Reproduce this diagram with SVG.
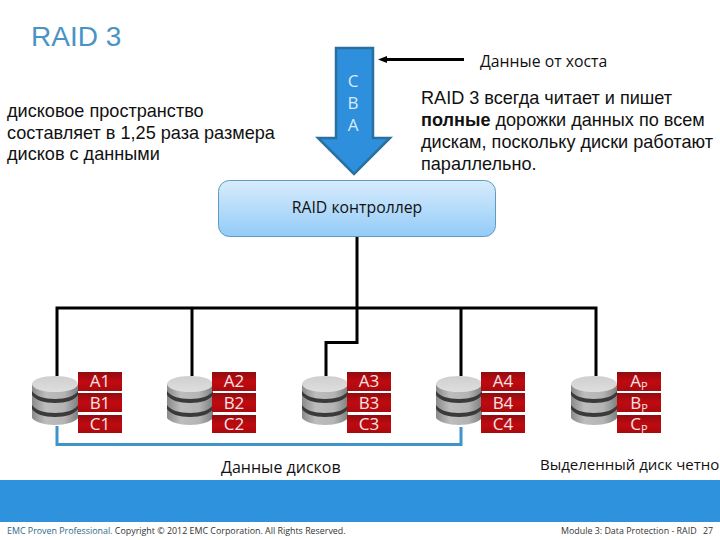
<svg xmlns="http://www.w3.org/2000/svg" width="720" height="540" viewBox="0 0 720 540">
<style>
.s{font-family:"Liberation Sans",Arial,sans-serif;fill:#111}
.o{font-family:"Open Sans","Noto Sans",sans-serif;fill:#111}
.body{font-size:18.100px}
.cap{font-size:15.800px}
.foot{font-size:8.900px;fill:#333}
.lab{font-family:"Open Sans","Noto Sans",sans-serif;font-size:17px;fill:#f4e4e4;text-anchor:middle}
.alab{font-family:"Open Sans","Noto Sans",sans-serif;font-size:17px;fill:#d8ecfa;text-anchor:middle}
.sub{font-size:11px}
.cell{fill:url(#red)}
.bus{fill:none;stroke:#000;stroke-width:3}
.blue{fill:none;stroke:#3f94c8;stroke-width:3}
</style>
<defs>
<linearGradient id="ctl" x1="0" y1="0" x2="0" y2="1"><stop offset="0" stop-color="#d8ecfc"/><stop offset="1" stop-color="#93cbf8"/></linearGradient>
<linearGradient id="red" x1="0" y1="0" x2="0" y2="1"><stop offset="0" stop-color="#8f0c10"/><stop offset="0.5" stop-color="#c00a10"/><stop offset="1" stop-color="#a80a0e"/></linearGradient>
<linearGradient id="cyl" x1="0" y1="0" x2="1" y2="0"><stop offset="0" stop-color="#8a8a8a"/><stop offset="0.3" stop-color="#bdbdbd"/><stop offset="0.7" stop-color="#b4b4b4"/><stop offset="1" stop-color="#808080"/></linearGradient>
<linearGradient id="topg" x1="0" y1="0" x2="0" y2="1"><stop offset="0" stop-color="#cfcfcf"/><stop offset="1" stop-color="#dedede"/></linearGradient>
<g id="disk">
<path d="M0 8V42C3 46 12 49 23 49S43 46 46 42V8Z" fill="url(#cyl)"/>
<path d="M0 15C3 20 12 23 23 23S43 20 46 15V19C43 24 34 27 23 27S3 24 0 19Z" fill="#3a3a3a"/>
<path d="M0 29C3 34 12 37 23 37S43 34 46 29V33C43 38 34 41 23 41S3 38 0 33Z" fill="#3a3a3a"/>
<ellipse cx="23" cy="8" rx="23" ry="8" fill="url(#topg)"/>
</g>
<g id="cells">
<rect class="cell" x="0" y="0" width="44" height="19"/>
<rect class="cell" x="0" y="21" width="44" height="19"/>
<rect class="cell" x="0" y="43" width="44" height="18"/>
</g>
</defs>
<rect width="720" height="540" fill="#fff"/>
<text id="title" x="31" y="46" font-family="Liberation Sans,Arial,sans-serif" font-size="28" fill="#4a93c4">RAID 3</text>

<g id="connectors">
<path class="bus" d="M357 237V342.500H326V376M57 376V308H596V376M192 308V376M461 308V376"/>
<path class="blue" d="M57 426V444.500H461V427"/>
<path d="M464 59.500H385" stroke="#000" stroke-width="3" fill="none"/>
<path d="M378 59.500L387 56V63Z" fill="#000"/>
</g>

<g id="host-arrow">
<path d="M336 48H373V138H390L354 174L318 138H336Z" fill="#2e8fdc" stroke="#28709f" stroke-width="2.500"/>
<text class="alab" x="353" y="87">C</text>
<text class="alab" x="353" y="109">B</text>
<text class="alab" x="353" y="131">A</text>
</g>
<text id="host-label" class="o cap" x="480" y="67">Данные от хоста</text>

<g id="note-left" class="s body">
<text x="7" y="117">дисковое пространство</text>
<text x="7" y="139">составляет в 1,25 раза размера</text>
<text x="7" y="160">дисков с данными</text>
</g>
<g id="note-right" class="s body">
<text x="421" y="104">RAID 3 всегда читает и пишет</text>
<text x="421" y="126"><tspan font-weight="bold">полные</tspan> дорожки данных по всем</text>
<text x="421" y="148">дискам, поскольку диски работают</text>
<text x="421" y="170">параллельно.</text>
</g>

<g id="controller">
<rect x="218.500" y="180.500" width="277" height="56" rx="11" fill="url(#ctl)" stroke="#5c9cbc"/>
<text class="o cap" x="357" y="213" text-anchor="middle">RAID контроллер</text>
</g>

<g id="disk1">
<use href="#disk" x="32" y="376"/><use href="#cells" x="78" y="372"/>
<text class="lab" x="100" y="387">A1</text><text class="lab" x="100" y="408.500">B1</text><text class="lab" x="100" y="430">C1</text>
</g>
<g id="disk2">
<use href="#disk" x="167" y="376"/><use href="#cells" x="212" y="372"/>
<text class="lab" x="234" y="387">A2</text><text class="lab" x="234" y="408.500">B2</text><text class="lab" x="234" y="430">C2</text>
</g>
<g id="disk3">
<use href="#disk" x="302" y="376"/><use href="#cells" x="347" y="372"/>
<text class="lab" x="369" y="387">A3</text><text class="lab" x="369" y="408.500">B3</text><text class="lab" x="369" y="430">C3</text>
</g>
<g id="disk4">
<use href="#disk" x="436" y="376"/><use href="#cells" x="481" y="372"/>
<text class="lab" x="503" y="387">A4</text><text class="lab" x="503" y="408.500">B4</text><text class="lab" x="503" y="430">C4</text>
</g>
<g id="disk5">
<use href="#disk" x="571" y="376"/><use href="#cells" x="617" y="372"/>
<text class="lab" x="639" y="387">A<tspan class="sub" dy="3">P</tspan></text><text class="lab" x="639" y="408.500">B<tspan class="sub" dy="3">P</tspan></text><text class="lab" x="639" y="430">C<tspan class="sub" dy="3">P</tspan></text>
</g>

<text id="data-label" class="o cap" x="221" y="473" style="font-size:16px">Данные дисков</text>
<text id="parity-label" class="o cap" x="540" y="470" style="font-size:15px">Выделенный диск четно</text>

<rect id="band" x="0" y="480" width="720" height="42" fill="#2e92dc"/>
<text class="o foot" x="7" y="534"><tspan style="fill:#2c6a8c">EMC Proven Professional.</tspan> Copyright © 2012 EMC Corporation. All Rights Reserved.</text>
<text class="o foot" x="561" y="534">Module 3: Data Protection - RAID</text>
<text class="o foot" x="703" y="534">27</text>
</svg>
